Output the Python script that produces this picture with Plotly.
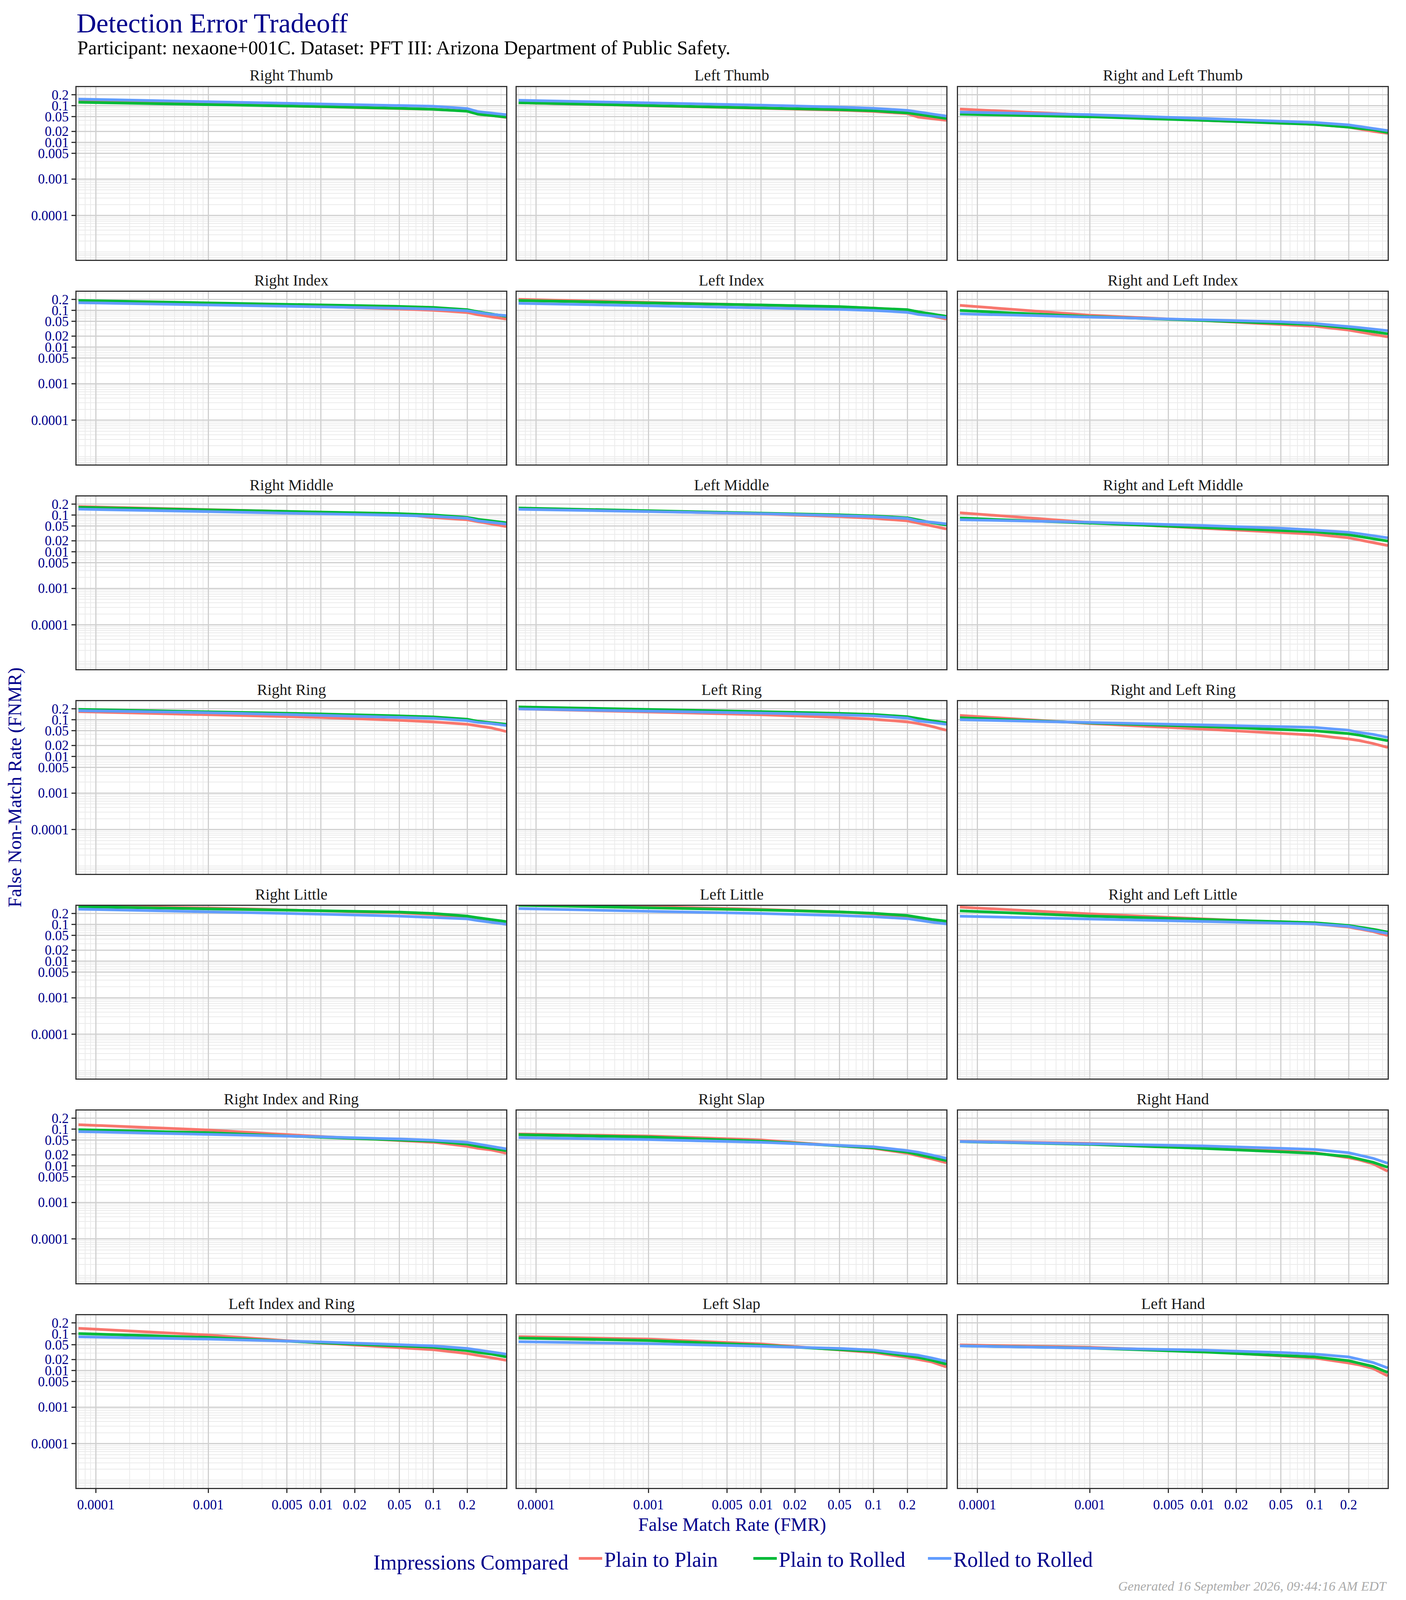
import plotly.graph_objects as go
from plotly.subplots import make_subplots

# panels in facet order (row by row)
PANELS = [
    "Right Thumb", "Left Thumb", "Right and Left Thumb",
    "Right Index", "Left Index", "Right and Left Index",
    "Right Middle", "Left Middle", "Right and Left Middle",
    "Right Ring", "Left Ring", "Right and Left Ring",
    "Right Little", "Left Little", "Right and Left Little",
    "Right Index and Ring", "Right Slap", "Right Hand",
    "Left Index and Ring", "Left Slap", "Left Hand",
]

# false match rate sample points shared by all curves
FMR = [0.00007, 0.001, 0.01, 0.05, 0.1, 0.2, 0.25, 0.33, 0.445]

# FNMR, one row per panel
PLAIN_TO_PLAIN = [
    [0.134, 0.111, 0.095, 0.086, 0.080, 0.072, 0.059, 0.054, 0.048],
    [0.121, 0.101, 0.087, 0.076, 0.070, 0.061, 0.049, 0.044, 0.040],
    [0.081, 0.056, 0.040, 0.034, 0.031, 0.026, 0.023, 0.020, 0.0177],
    [0.168, 0.145, 0.128, 0.110, 0.101, 0.088, 0.076, 0.067, 0.058],
    [0.201, 0.168, 0.139, 0.125, 0.116, 0.101, 0.085, 0.071, 0.058],
    [0.138, 0.074, 0.053, 0.041, 0.037, 0.029, 0.026, 0.0225, 0.019],
    [0.172, 0.141, 0.122, 0.107, 0.086, 0.075, 0.066, 0.058, 0.049],
    [0.153, 0.129, 0.108, 0.091, 0.082, 0.070, 0.060, 0.050, 0.042],
    [0.116, 0.063, 0.044, 0.033, 0.030, 0.024, 0.021, 0.018, 0.0148],
    [0.168, 0.140, 0.116, 0.097, 0.088, 0.076, 0.068, 0.060, 0.048],
    [0.199, 0.164, 0.138, 0.116, 0.104, 0.088, 0.079, 0.066, 0.052],
    [0.132, 0.079, 0.056, 0.043, 0.038, 0.030, 0.027, 0.0225, 0.0176],
    [0.320, 0.284, 0.237, 0.209, 0.187, 0.155, 0.133, 0.117, 0.101],
    [0.350, 0.309, 0.259, 0.221, 0.196, 0.164, 0.145, 0.129, 0.116],
    [0.298, 0.196, 0.143, 0.117, 0.104, 0.085, 0.076, 0.064, 0.050],
    [0.133, 0.095, 0.063, 0.049, 0.044, 0.034, 0.030, 0.027, 0.022],
    [0.074, 0.065, 0.051, 0.036, 0.030, 0.022, 0.019, 0.0154, 0.0121],
    [0.047, 0.041, 0.0333, 0.0261, 0.0227, 0.0166, 0.0144, 0.0113, 0.0071],
    [0.142, 0.093, 0.056, 0.043, 0.037, 0.029, 0.026, 0.0228, 0.019],
    [0.084, 0.072, 0.053, 0.037, 0.031, 0.0227, 0.0204, 0.0171, 0.0125],
    [0.050, 0.043, 0.0333, 0.025, 0.0219, 0.016, 0.0141, 0.0113, 0.0071],
]

PLAIN_TO_ROLLED = [
    [0.125, 0.109, 0.095, 0.085, 0.080, 0.071, 0.059, 0.054, 0.049],
    [0.121, 0.103, 0.088, 0.078, 0.073, 0.064, 0.058, 0.052, 0.045],
    [0.059, 0.050, 0.040, 0.034, 0.031, 0.026, 0.0245, 0.022, 0.0186],
    [0.187, 0.163, 0.144, 0.129, 0.121, 0.105, 0.092, 0.079, 0.069],
    [0.187, 0.163, 0.141, 0.127, 0.118, 0.105, 0.092, 0.081, 0.069],
    [0.100, 0.068, 0.053, 0.045, 0.041, 0.033, 0.030, 0.027, 0.023],
    [0.164, 0.141, 0.123, 0.110, 0.101, 0.087, 0.077, 0.070, 0.062],
    [0.157, 0.133, 0.116, 0.102, 0.095, 0.085, 0.074, 0.062, 0.054],
    [0.083, 0.060, 0.047, 0.038, 0.035, 0.029, 0.026, 0.023, 0.0196],
    [0.193, 0.168, 0.145, 0.128, 0.120, 0.104, 0.091, 0.083, 0.076],
    [0.225, 0.196, 0.168, 0.150, 0.140, 0.122, 0.108, 0.094, 0.083],
    [0.114, 0.082, 0.066, 0.056, 0.050, 0.042, 0.038, 0.032, 0.027],
    [0.309, 0.272, 0.242, 0.218, 0.200, 0.170, 0.153, 0.138, 0.120],
    [0.336, 0.292, 0.250, 0.221, 0.203, 0.176, 0.155, 0.138, 0.123],
    [0.237, 0.170, 0.138, 0.120, 0.112, 0.094, 0.085, 0.074, 0.062],
    [0.097, 0.080, 0.060, 0.051, 0.047, 0.039, 0.034, 0.030, 0.026],
    [0.071, 0.061, 0.047, 0.036, 0.031, 0.0235, 0.0205, 0.0172, 0.0139],
    [0.0457, 0.0384, 0.030, 0.0243, 0.0219, 0.0178, 0.0154, 0.0125, 0.0091],
    [0.102, 0.080, 0.057, 0.047, 0.043, 0.035, 0.031, 0.028, 0.0235],
    [0.077, 0.066, 0.049, 0.038, 0.033, 0.025, 0.0227, 0.019, 0.0149],
    [0.047, 0.041, 0.032, 0.026, 0.0235, 0.0185, 0.016, 0.0129, 0.0088],
]

ROLLED_TO_ROLLED = [
    [0.152, 0.131, 0.114, 0.103, 0.097, 0.084, 0.069, 0.063, 0.057],
    [0.141, 0.121, 0.104, 0.092, 0.085, 0.075, 0.067, 0.059, 0.052],
    [0.067, 0.057, 0.045, 0.038, 0.035, 0.030, 0.027, 0.024, 0.021],
    [0.163, 0.144, 0.127, 0.115, 0.109, 0.098, 0.088, 0.078, 0.072],
    [0.157, 0.136, 0.118, 0.107, 0.100, 0.089, 0.078, 0.072, 0.064],
    [0.081, 0.067, 0.056, 0.049, 0.044, 0.037, 0.034, 0.031, 0.028],
    [0.146, 0.126, 0.110, 0.099, 0.093, 0.082, 0.070, 0.064, 0.057],
    [0.145, 0.126, 0.110, 0.097, 0.091, 0.081, 0.069, 0.064, 0.058],
    [0.075, 0.064, 0.052, 0.044, 0.039, 0.034, 0.031, 0.027, 0.024],
    [0.178, 0.157, 0.133, 0.118, 0.110, 0.095, 0.085, 0.079, 0.070],
    [0.199, 0.176, 0.153, 0.138, 0.129, 0.112, 0.094, 0.085, 0.076],
    [0.101, 0.085, 0.072, 0.066, 0.062, 0.052, 0.045, 0.040, 0.033],
    [0.263, 0.225, 0.192, 0.170, 0.158, 0.143, 0.128, 0.116, 0.102],
    [0.272, 0.233, 0.200, 0.176, 0.164, 0.145, 0.129, 0.116, 0.104],
    [0.169, 0.143, 0.124, 0.112, 0.104, 0.089, 0.079, 0.069, 0.057],
    [0.086, 0.073, 0.062, 0.054, 0.050, 0.044, 0.039, 0.034, 0.029],
    [0.059, 0.052, 0.044, 0.037, 0.033, 0.026, 0.0235, 0.0197, 0.016],
    [0.046, 0.040, 0.035, 0.030, 0.028, 0.0227, 0.0197, 0.016, 0.0117],
    [0.083, 0.072, 0.060, 0.052, 0.047, 0.040, 0.036, 0.032, 0.028],
    [0.061, 0.054, 0.046, 0.040, 0.036, 0.029, 0.026, 0.0219, 0.0177],
    [0.047, 0.041, 0.036, 0.031, 0.028, 0.0235, 0.0204, 0.0165, 0.0117],
]

SERIES = [
    ("Plain to Plain", PLAIN_TO_PLAIN, "#F8766D"),
    ("Plain to Rolled", PLAIN_TO_ROLLED, "#00BA38"),
    ("Rolled to Rolled", ROLLED_TO_ROLLED, "#619CFF"),
]

TICK_VALS = [0.0001, 0.001, 0.005, 0.01, 0.02, 0.05, 0.1, 0.2]
TICK_TEXT = ["0.0001", "0.001", "0.005", "0.01", "0.02", "0.05", "0.1", "0.2"]

TITLE = "Detection Error Tradeoff"
SUBTITLE = "Participant: nexaone+001C. Dataset: PFT III: Arizona Department of Public Safety."
FOOTER = "Generated 16 September 2026, 09:44:16 AM EDT"

# the captured page is only ~4096px tall, so the sheet is laid out a bit
# shorter than the 3600x4800 original to keep everything on screen
W, H = 3600, 4080
SERIF = "Palatino Linotype, Palatino, P052, URW Palladio L, Liberation Serif, serif"
NAVY = "#00008B"
NROWS, NCOLS = 7, 3

# panel geometry in page pixels
COL_LEFT = [188, 1315, 2445]
PANEL_W = 1100
ROW_TOP0, ROW_PITCH, PANEL_H = 215, 524, 442
LAST_BOTTOM = ROW_TOP0 + ROW_PITCH * (NROWS - 1) + PANEL_H


def px(x):
    return x / W


def py(y):
    return 1 - y / H


fig = make_subplots(rows=NROWS, cols=NCOLS)

for idx, panel in enumerate(PANELS):
    r, c = idx // NCOLS + 1, idx % NCOLS + 1
    for name, data, color in SERIES:
        fig.add_trace(
            go.Scatter(
                x=FMR,
                y=data[idx],
                mode="lines",
                name=name,
                legendgroup=name,
                showlegend=(idx == 0),
                line=dict(color=color, width=7),
                hoverinfo="skip",
            ),
            row=r,
            col=c,
        )

annotations = []
for idx, panel in enumerate(PANELS):
    r, c = idx // NCOLS, idx % NCOLS
    n = idx + 1
    x0 = COL_LEFT[c]
    top = ROW_TOP0 + ROW_PITCH * r
    bottom_row = r == NROWS - 1
    first_col = c == 0
    common = dict(
        type="log",
        tickvals=TICK_VALS,
        ticktext=TICK_TEXT,
        showgrid=True,
        gridcolor="#D0D0D0",
        gridwidth=3,
        showline=True,
        mirror=True,
        linecolor="#333333",
        linewidth=3,
        zeroline=False,
        automargin=False,
        tickfont=dict(family=SERIF, size=35, color=NAVY),
        tickcolor="#333333",
        ticklen=10,
        tickwidth=3,
        minor=dict(dtick="D1", showgrid=True, gridcolor="#EBEBEB", gridwidth=1.5, ticks=""),
    )
    fig.layout[f"xaxis{n}"].update(
        common,
        domain=[px(x0), px(x0 + PANEL_W)],
        range=[-4.172, -0.352],
        showticklabels=bottom_row,
        ticks="outside" if bottom_row else "",
    )
    fig.layout[f"yaxis{n}"].update(
        common,
        domain=[py(top + PANEL_H), py(top)],
        range=[-5.21, -0.49],
        showticklabels=first_col,
        ticks="outside" if first_col else "",
    )
    annotations.append(
        dict(
            text=panel,
            x=px(x0 + PANEL_W / 2),
            y=py(top - 30),
            xref="paper",
            yref="paper",
            xanchor="center",
            yanchor="middle",
            showarrow=False,
            font=dict(family=SERIF, size=40, color="#1A1A1A"),
        )
    )

annotations += [
    dict(
        text=SUBTITLE,
        x=px(188),
        y=py(114),
        xref="paper",
        yref="paper",
        xanchor="left",
        yanchor="middle",
        showarrow=False,
        font=dict(family=SERIF, size=50, color="black"),
    ),
    dict(
        text="False Match Rate (FMR)",
        x=px(1866),
        y=py(LAST_BOTTOM + 94),
        xref="paper",
        yref="paper",
        xanchor="center",
        yanchor="middle",
        showarrow=False,
        font=dict(family=SERIF, size=48, color=NAVY),
    ),
    dict(
        text="False Non-Match Rate (FNMR)",
        x=px(30),
        y=py((ROW_TOP0 + LAST_BOTTOM) / 2),
        xref="paper",
        yref="paper",
        xanchor="center",
        yanchor="middle",
        textangle=-90,
        showarrow=False,
        font=dict(family=SERIF, size=48, color=NAVY),
    ),
    dict(
        text=f"<i>{FOOTER}</i>",
        x=px(3545),
        y=py(4052),
        xref="paper",
        yref="paper",
        xanchor="right",
        yanchor="middle",
        showarrow=False,
        font=dict(family=SERIF, size=34, color="#AAAAAA"),
    ),
]

fig.update_layout(
    width=W,
    height=H,
    template="none",
    margin=dict(l=0, r=0, t=0, b=0),
    paper_bgcolor="white",
    plot_bgcolor="white",
    font=dict(family=SERIF, color=NAVY),
    title=dict(
        text=TITLE,
        x=px(188),
        xanchor="left",
        y=py(50),
        yanchor="middle",
        font=dict(family=SERIF, size=70, color=NAVY),
    ),
    annotations=annotations,
    legend=dict(
        orientation="h",
        x=px(1878),
        xanchor="center",
        y=py(3982),
        yanchor="middle",
        title=dict(text="Impressions Compared ", side="left", font=dict(family=SERIF, size=54, color=NAVY)),
        font=dict(family=SERIF, size=54, color=NAVY),
        itemwidth=60,
        entrywidth=372,
        entrywidthmode="pixels",
        bgcolor="rgba(0,0,0,0)",
    ),
    showlegend=True,
)

fig.write_html("out.html")
